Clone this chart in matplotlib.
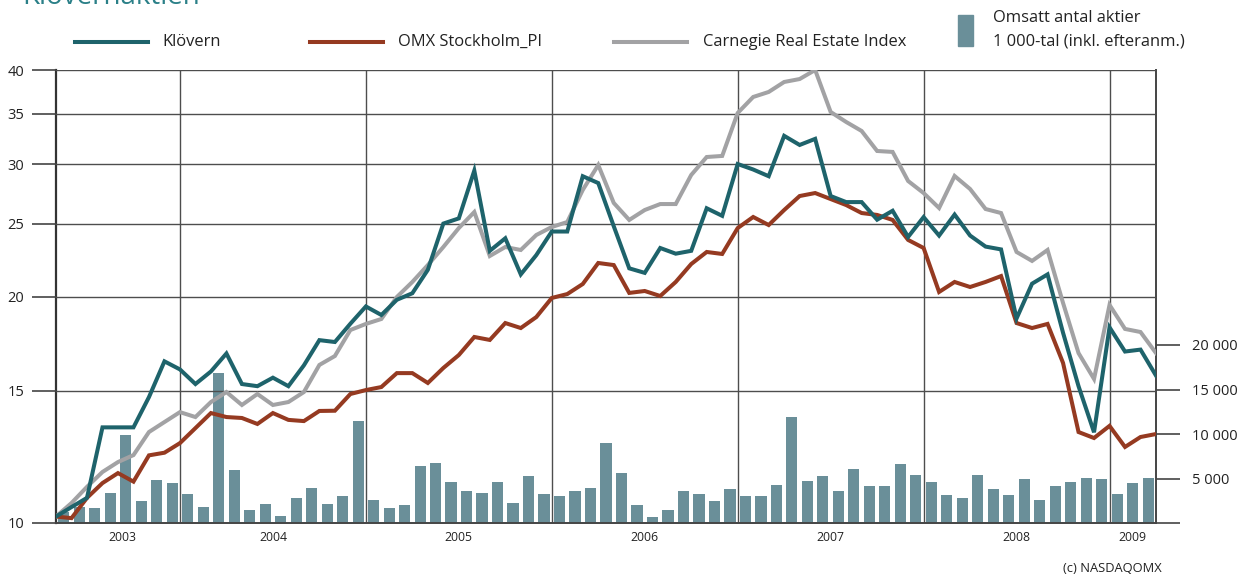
import matplotlib
matplotlib.use('Agg')
import matplotlib.pyplot as plt
import numpy as np
from matplotlib.ticker import NullLocator
from matplotlib.lines import Line2D
from matplotlib.patches import Rectangle

plt.rcParams['font.family'] = ['Open Sans', 'DejaVu Sans']

# ---- data (monthly, May 2003 .. Mar 2009) ----
years = ['2003', '2004', '2005', '2006', '2007', '2008', '2009']
year_label_pos = [4.3, 14, 26, 38, 50, 62, 69.5]
year_bounds = [8, 20, 32, 44, 56, 68]

klovern = [10.2, 10.5, 10.8, 13.4, 13.4, 13.4, 14.7, 16.4, 16.0, 15.3, 15.9, 16.8,
           15.3, 15.2, 15.6, 15.2, 16.2, 17.5, 17.4, 18.4, 19.4, 18.9, 19.8, 20.2,
           21.7, 25.0, 25.4, 29.4, 23.0, 23.9, 21.4, 22.7, 24.4, 24.4, 28.9, 28.3,
           24.8, 21.8, 21.5, 23.2, 22.8, 23.0, 26.2, 25.6, 30.0, 29.5, 28.9, 32.7,
           31.8, 32.4, 27.2, 26.7, 26.7, 25.3, 26.0, 24.0, 25.5, 24.1, 25.7, 24.1,
           23.3, 23.1, 18.7, 20.8, 21.4, 17.9, 15.2, 13.2, 18.2, 16.9, 17.0, 15.7]

omx = [10.2, 10.15, 10.8, 11.3, 11.65, 11.35, 12.3, 12.4, 12.77, 13.37, 14.0, 13.83,
       13.79, 13.54, 14.0, 13.71, 13.66, 14.09, 14.1, 14.84, 15.02, 15.16, 15.82, 15.82,
       15.35, 16.07, 16.72, 17.67, 17.51, 18.44, 18.16, 18.78, 19.91, 20.15, 20.78, 22.16,
       22.02, 20.22, 20.34, 20.03, 20.91, 22.09, 22.92, 22.78, 24.66, 25.51, 24.89, 26.06,
       27.2, 27.45, 26.95, 26.46, 25.82, 25.67, 25.28, 23.78, 23.2, 20.28, 20.91, 20.59,
       20.91, 21.29, 18.44, 18.16, 18.39, 16.32, 13.21, 12.97, 13.46, 12.62, 13.01, 13.13]

carnegie = [10.2, 10.63, 11.17, 11.69, 12.05, 12.31, 13.21, 13.62, 14.04, 13.83, 14.48, 14.93,
            14.35, 14.84, 14.35, 14.48, 14.93, 16.22, 16.67, 18.05, 18.39, 18.67, 19.97, 20.91,
            22.02, 23.27, 24.66, 25.9, 22.64, 23.27, 23.06, 24.14, 24.74, 25.12, 27.71, 29.91,
            26.63, 25.28, 26.06, 26.54, 26.54, 29.01, 30.65, 30.75, 35.07, 36.83, 37.4, 38.56,
            38.91, 40.0, 35.18, 34.12, 33.19, 31.22, 31.13, 28.48, 27.45, 26.22, 28.92, 27.79,
            26.14, 25.82, 22.92, 22.3, 23.06, 19.61, 16.82, 15.54, 19.49, 18.11, 17.94, 16.82]

volume = [1200, 1850, 1700, 3400, 9900, 2450, 4850, 4500, 3300, 1750, 16900, 5900,
          1450, 2150, 800, 2850, 3950, 2150, 3050, 11500, 2600, 1700, 2050, 6350,
          6750, 4620, 3620, 3380, 4620, 2270, 5300, 3280, 3050, 3620, 3950, 9000,
          5620, 2050, 700, 1480, 3620, 3280, 2500, 3850, 3050, 3050, 4300, 11950,
          4750, 5300, 3620, 6100, 4180, 4180, 6650, 5420, 4620, 3170, 2830, 5420,
          3850, 3170, 4950, 2620, 4180, 4620, 5070, 4980, 3280, 4520, 5070]

left_ticks = [10, 15, 20, 25, 30, 35, 40]
right_ticks = [0, 5000, 10000, 15000, 20000]
right_labels = ['', '5 000', '10 000', '15 000', '20 000']

c_klovern = '#1e636b'
c_omx = '#953a21'
c_carnegie = '#a2a2a4'
c_bar = '#6a8f99'
c_grid = '#4d4d4d'

W, H = 1242, 576
fig = plt.figure(figsize=(W / 100, H / 100), dpi=100)
ax_bar = fig.add_axes([56 / W, 53 / H, 1100 / W, 453 / H])
ax = ax_bar.twinx()
ax_bar.yaxis.tick_right()
ax.yaxis.tick_left()

x_line = np.arange(len(klovern))
x_bar = np.arange(len(volume)) + 0.5

# bars
ax_bar.bar(x_bar, volume, width=0.72, color=c_bar, zorder=2, linewidth=0)
ax_bar.set_ylim(0, 453 / 44.5 * 5000)
ax_bar.set_xlim(0, len(klovern) - 1)
ax_bar.set_yticks(right_ticks)
ax_bar.set_yticklabels(right_labels)
ax_bar.tick_params(axis='y', direction='out', length=17, width=1.2, color='#444',
                   pad=9, labelsize=10.5, labelcolor='#222')
ax_bar.set_xticks(year_bounds)
ax_bar.set_xticklabels([''] * len(year_bounds))
ax_bar.set_xticks(year_label_pos, minor=True)
ax_bar.set_xticklabels(years, minor=True)
ax_bar.tick_params(axis='x', which='both', length=0, pad=6, labelsize=8.8, labelcolor='#222')
ax_bar.grid(axis='x', which='major', color=c_grid, linewidth=1.0, zorder=0)
ax_bar.set_axisbelow(True)
ax_bar.spines['top'].set_visible(False)
ax_bar.spines['left'].set_color('#333')
ax_bar.spines['left'].set_linewidth(1.6)
ax_bar.spines['right'].set_color('#444')
ax_bar.spines['right'].set_linewidth(1.4)
ax_bar.spines['bottom'].set_color('#444')
ax_bar.spines['bottom'].set_linewidth(1.4)

# lines
ax.set_yscale('log')
ax.set_ylim(10, 40)
ax.plot(x_line, carnegie, color=c_carnegie, lw=2.9, solid_joinstyle='miter', zorder=3)
ax.plot(x_line, omx, color=c_omx, lw=2.9, solid_joinstyle='miter', zorder=4)
ax.plot(x_line, klovern, color=c_klovern, lw=2.9, solid_joinstyle='miter', zorder=5)
ax.set_yticks(left_ticks)
ax.set_yticklabels([str(t) for t in left_ticks])
ax.yaxis.set_minor_locator(NullLocator())
ax.tick_params(axis='y', direction='out', length=17, width=1.2, color='#444',
               pad=6, labelsize=10.5, labelcolor='#222')
ax.grid(axis='y', which='major', color=c_grid, linewidth=1.0)
for s in ax.spines.values():
    s.set_visible(False)

# title (cut off at the top)
fig.text(22 / W, 1 - 4 / H, 'Klövernaktien', color='#2b8088', fontsize=20, va='baseline', ha='left')

# legend
ly = 1 - 42 / H
for (x0, x1, col, xt, lab) in [(75, 148, c_klovern, 162, 'Klövern'),
                               (310, 383, c_omx, 398, 'OMX Stockholm_PI'),
                               (614, 687, c_carnegie, 703, 'Carnegie Real Estate Index')]:
    fig.add_artist(Line2D([x0 / W, x1 / W], [ly, ly], color=col, lw=2.9,
                          transform=fig.transFigure))
    fig.text(xt / W, ly, lab, fontsize=11.9, va='center', ha='left', color='#222')
fig.add_artist(Rectangle((958 / W, 1 - 46 / H), 15 / W, 31 / H, color=c_bar,
                         transform=fig.transFigure))
fig.text(993 / W, 1 - 18 / H, 'Omsatt antal aktier', fontsize=11.9, va='center', ha='left', color='#222')
fig.text(993 / W, 1 - 42 / H, '1 000-tal (inkl. efteranm.)', fontsize=11.9, va='center', ha='left', color='#222')

fig.text(1162 / W, 1 - 568 / H, '(c) NASDAQOMX', fontsize=9.3, va='center', ha='right', color='#222')

fig.savefig('out.png', dpi=100)
